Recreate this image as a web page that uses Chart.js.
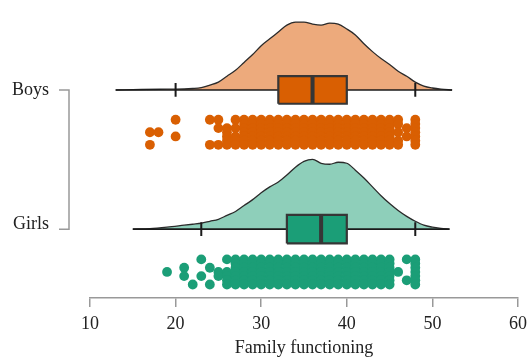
<!DOCTYPE html>
<html>
<head>
<meta charset="utf-8">
<script src="https://cdn.jsdelivr.net/npm/chart.js@4/dist/chart.umd.min.js"></script>
<style>
  html, body { margin: 0; padding: 0; background: #ffffff; }
  #wrap { width: 527px; height: 359px; position: relative; }
</style>
</head>
<body>
<div id="wrap"><canvas id="c"></canvas></div>
<script>
// ---------------- data ----------------
const groups = ['Boys', 'Girls'];
const scoreTicks = [10, 20, 30, 40, 50, 60];
const axisTitle = 'Family functioning';

// density outline: score -> curve height (in plot units above the group baseline)
const boysDensityX = [13, 16, 19, 21, 22, 23, 24, 25, 26, 27, 28, 29, 30, 31, 32, 33, 34, 35, 36, 37, 38, 39, 40, 41, 42, 43, 44, 45, 46, 47, 48, 49, 50, 51, 52.3];
const boysDensityH = [0, 0.005, 0.008, 0.01, 0.015, 0.025, 0.05, 0.08, 0.14, 0.20, 0.28, 0.36, 0.45, 0.52, 0.59, 0.66, 0.69, 0.69, 0.67, 0.66, 0.68, 0.67, 0.62, 0.56, 0.47, 0.39, 0.32, 0.26, 0.19, 0.14, 0.08, 0.04, 0.02, 0.008, 0];
const girlsDensityX = [15, 17, 19, 21, 22, 23, 24, 25, 26, 27, 28, 29, 30, 31, 32, 33, 34, 35, 36, 37, 38, 39, 40, 41, 42, 43, 44, 45, 46, 47, 48, 49, 50, 51, 52];
const girlsDensityH = [0, 0.005, 0.02, 0.04, 0.05, 0.06, 0.08, 0.10, 0.14, 0.18, 0.24, 0.30, 0.37, 0.43, 0.48, 0.55, 0.63, 0.69, 0.71, 0.67, 0.66, 0.68, 0.67, 0.60, 0.52, 0.43, 0.34, 0.26, 0.19, 0.13, 0.08, 0.04, 0.02, 0.008, 0];

// box plot: [lower whisker, Q1, median, Q3, upper whisker]
const boysBox = [20, 32, 36, 40, 48];
const girlsBox = [23, 33, 37, 40, 48];

// jittered raw scores: score column and the jitter lanes (0 = top .. 6 = bottom) occupied
const boysDotScores = [17, 18, 20, 24, 25, 26, 27, 28, 29, 30, 31, 32, 33, 34, 35, 36, 37, 38, 39, 40, 41, 42, 43, 44, 45, 46, 47, 48];
const boysDotLanes  = ['36', '3', '04', '06', '026', '23456', '02456', '0123456', '0123456', '0123456', '0123456', '0123456', '0123456', '0123456', '0123456', '0123456', '0123456', '0123456', '0123456', '0123456', '0123456', '0123456', '0123456', '0123456', '0123456', '01356', '24', '0123456'];
const girlsDotScores = [19, 21, 22, 23, 24, 25, 26, 27, 28, 29, 30, 31, 32, 33, 34, 35, 36, 37, 38, 39, 40, 41, 42, 43, 44, 45, 46, 47, 48];
const girlsDotLanes  = ['3', '24', '6', '04', '26', '34', '03456', '0123456', '0123456', '0123456', '0123456', '0123456', '0123456', '0123456', '0123456', '0123456', '0123456', '0123456', '0123456', '0123456', '0123456', '0123456', '0123456', '0123456', '0123456', '0123456', '3', '05', '0123456'];

// ---------------- layout / style ----------------
const rows = {
  Boys:  { base: 2.115, dots: 1.685, box: 0.14, fill: '#EDAA7C', dark: '#D95F02' },
  Girls: { base: 0.70, dots: 0.265, box: 0.145, fill: '#8ECFBA', dark: '#1B9E77' }
};
const laneStep = 0.0425;
const capHalf = 0.07;

function densityData(xs, hs, base) { return xs.map((x, i) => ({ x: x, y: base + hs[i] })); }
function dotData(scores, lanes, center) {
  const out = [];
  scores.forEach((s, i) => {
    for (const ch of lanes[i]) out.push({ x: s, y: center + (3 - Number(ch)) * laneStep });
  });
  return out;
}

function groupDatasets(name, dX, dH, box, dS, dL) {
  const r = rows[name];
  const b = r.base, h = r.box;
  return [
    { // density (cloud)
      data: densityData(dX, dH, b), fill: { value: b }, backgroundColor: r.fill,
      borderColor: '#2b2b2b', borderWidth: 1.3, cubicInterpolationMode: 'monotone', pointRadius: 0, order: 10
    },
    { // baseline / whisker line
      data: [{ x: dX[0], y: b }, { x: dX[dX.length - 1], y: b }], borderColor: '#1a1a1a', borderWidth: 1.6,
      pointRadius: 0, fill: false, order: 9
    },
    { // whisker caps
      data: [{ x: box[0], y: b - capHalf }, { x: box[0], y: b + capHalf }, { x: NaN, y: NaN }, { x: box[4], y: b - capHalf }, { x: box[4], y: b + capHalf }],
      borderColor: '#1a1a1a', borderWidth: 2, pointRadius: 0, fill: false, spanGaps: false, order: 9
    },
    { // box fill
      data: [{ x: box[1], y: b + h }, { x: box[3], y: b + h }], fill: { value: b - h }, backgroundColor: r.dark,
      borderWidth: 0, pointRadius: 0, order: 8
    },
    { // box outline
      data: [{ x: box[1], y: b - h }, { x: box[3], y: b - h }, { x: box[3], y: b + h }, { x: box[1], y: b + h }, { x: box[1], y: b - h }],
      borderColor: '#363636', borderWidth: 2.2, pointRadius: 0, fill: false, order: 7
    },
    { // median
      data: [{ x: box[2], y: b - h }, { x: box[2], y: b + h }], borderColor: '#363636', borderWidth: 4,
      pointRadius: 0, fill: false, order: 6
    },
    { // rain (raw scores)
      data: dotData(dS, dL, r.dots), showLine: false, pointRadius: 4.9, pointHoverRadius: 4.9,
      pointBackgroundColor: r.dark, pointBorderWidth: 0, backgroundColor: r.dark, borderColor: r.dark, order: 5
    }
  ];
}

const datasets = [].concat(
  groupDatasets('Boys', boysDensityX, boysDensityH, boysBox, boysDotScores, boysDotLanes),
  groupDatasets('Girls', girlsDensityX, girlsDensityH, girlsBox, girlsDotScores, girlsDotLanes)
);

const axisGray = '#999999';
const serif = "'Liberation Serif', 'Times New Roman', serif";

const bracketPlugin = {
  id: 'groupAxis',
  afterDraw(chart) {
    const ctx = chart.ctx, ys = chart.scales.y;
    const xLine = chart.chartArea.left - 21;
    const pb = ys.getPixelForValue(rows.Boys.base);
    const pg = ys.getPixelForValue(rows.Girls.base);
    ctx.save();
    ctx.strokeStyle = axisGray;
    ctx.lineWidth = 1.5;
    ctx.beginPath();
    ctx.moveTo(xLine - 10, pb); ctx.lineTo(xLine, pb); ctx.lineTo(xLine, pg); ctx.lineTo(xLine - 10, pg);
    ctx.stroke();
    ctx.fillStyle = '#222222';
    ctx.font = '18px ' + serif;
    ctx.textAlign = 'right';
    ctx.textBaseline = 'alphabetic';
    ctx.fillText(groups[0], 49, pb + 5);
    ctx.fillText(groups[1], 49, pg);
    ctx.restore();
  }
};

new Chart(document.getElementById('c'), {
  type: 'line',
  data: { datasets: datasets },
  plugins: [bracketPlugin],
  options: {
    responsive: true,
    maintainAspectRatio: false,
    animation: false,
    events: [],
    layout: { padding: { left: 90, right: 9, top: 0, bottom: 0 } },
    plugins: { legend: { display: false }, tooltip: { enabled: false } },
    elements: { line: { tension: 0 } },
    scales: {
      x: {
        type: 'linear', min: 10, max: 60,
        afterBuildTicks: (s) => { s.ticks = scoreTicks.map(v => ({ value: v })); },
        afterFit: (s) => { s.height = 61; s.paddingLeft = 0; s.paddingRight = 0; },
        grid: { drawOnChartArea: false, drawTicks: true, tickLength: 9, color: axisGray, lineWidth: 1.5 },
        border: { display: true, color: axisGray, width: 1.5 },
        ticks: { color: '#222222', font: { family: serif, size: 18 }, padding: 6, maxRotation: 0 },
        title: { display: true, text: axisTitle, color: '#222222', font: { family: serif, size: 18 }, padding: { top: 0, bottom: 0 } }
      },
      y: { type: 'linear', min: 0, max: 2.98, display: false }
    }
  }
});
</script>
</body>
</html>
